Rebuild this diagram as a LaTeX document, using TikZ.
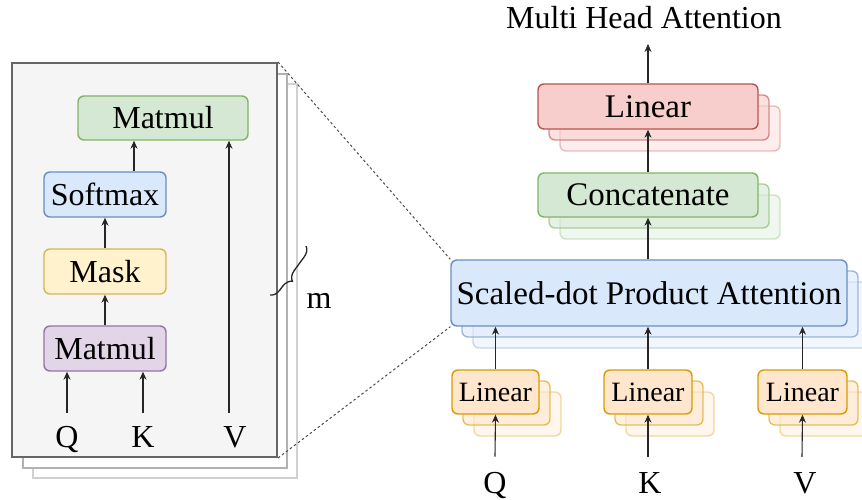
\documentclass[tikz,border=0pt]{standalone}
\usepackage{fontspec}
\setmainfont{Liberation Serif}
\usetikzlibrary{arrows.meta,decorations.pathreplacing,calc}
\definecolor{gF}{HTML}{D5E8D4}\definecolor{gD}{HTML}{82B366}
\definecolor{bF}{HTML}{DAE8FC}\definecolor{bD}{HTML}{6C8EBF}
\definecolor{yF}{HTML}{FFF2CC}\definecolor{yD}{HTML}{D6B656}
\definecolor{pF}{HTML}{E1D5E7}\definecolor{pD}{HTML}{9673A6}
\definecolor{rF}{HTML}{F8CECC}\definecolor{rD}{HTML}{B85450}
\definecolor{oF}{HTML}{FFE6CC}\definecolor{oD}{HTML}{D79B00}
\definecolor{panF}{HTML}{F5F5F5}\definecolor{panD}{HTML}{666666}
\newcommand\fsz[1]{\fontsize{#1}{#1}\selectfont}
\tikzset{
  box/.style={draw, rounded corners=6pt, line width=1.4pt, inner sep=0pt, text=black},
  arr/.style={-{Stealth[length=8pt,width=7pt]}, line width=1.1pt, black!85},
  lab/.style={inner sep=0pt, anchor=base, font=\fsz{32}},
  panelbox/.style={draw, inner sep=0pt, line width=2pt}
}
% name, x, y, w, h, color prefix, font size, text
\newcommand\stk[8]{%
  \node[box, minimum width=#4pt, minimum height=#5pt, fill=#6F, draw=#6D, opacity=0.35] at (#2+22,#3+22) {};
  \node[box, minimum width=#4pt, minimum height=#5pt, fill=#6F, draw=#6D, opacity=0.6] at (#2+11,#3+11) {};
  \node[box, minimum width=#4pt, minimum height=#5pt, fill=#6F, draw=#6D, font=\fsz{#7}] (#1) at (#2,#3) {#8};}
\begin{document}
\begin{tikzpicture}[x=1pt,y=-1pt]
\useasboundingbox (0,0) rectangle (862,500);
% ---------- left panel ----------
\node[panelbox, draw=black!18, fill=white, minimum width=264pt, minimum height=394pt] (pan3) at (165,281) {};
\node[panelbox, draw=black!30, fill=white, minimum width=264pt, minimum height=394pt] (pan2) at (155,271) {};
\node[panelbox, draw=panD, fill=panF, minimum width=265pt, minimum height=394pt] (panel) at (144.5,260) {};
\node[box, fill=gF, draw=gD, minimum width=170pt, minimum height=44pt, font=\fsz{32}] (mtop) at (163,118) {Matmul};
\node[box, fill=bF, draw=bD, minimum width=122pt, minimum height=45pt, font=\fsz{32}] (soft) at (105,194.5) {Softmax};
\node[box, fill=yF, draw=yD, minimum width=122pt, minimum height=45pt, font=\fsz{32}] (mask) at (105,271.5) {Mask};
\node[box, fill=pF, draw=pD, minimum width=122pt, minimum height=45pt, font=\fsz{32}] (mbot) at (105,348.5) {Matmul};
\node[lab] (lq) at (67,447) {Q};
\node[lab] (lk) at (143,447) {K};
\node[lab] (lv) at (235,447) {V};
\draw[arr] ([yshift=13pt]lq.north) -- ([xshift=-38pt]mbot.south);
\draw[arr] ([yshift=13pt]lk.north) -- ([xshift=38pt]mbot.south);
\draw[arr] ([xshift=-6pt,yshift=13pt]lv.north) -- ([xshift=66pt]mtop.south);
\draw[arr] (mbot.north) -- (mask.south);
\draw[arr] (mask.north) -- (soft.south);
\draw[arr] ([xshift=29pt]soft.north) -- ([xshift=-29pt]mtop.south);
% brace and m
\draw[decorate, decoration={brace, amplitude=10pt, aspect=0.6}, line width=1.3pt, black!85] (306,246) -- (270,295);
\node[lab] (mlab) at (319,308) {m};
% ---------- right side ----------
\node[lab, font=\fsz{32}] (title) at (644,29) {Multi Head Attention};
\stk{lin}{648}{106.5}{220}{45}{r}{33}{Linear}
\stk{cat}{648}{195}{220}{44}{g}{33}{Concatenate}
\stk{sdpa}{649}{293}{396}{66}{b}{33}{Scaled-dot Product Attention}
\stk{linq}{495.5}{392}{87}{44}{o}{28}{Linear}
\stk{link}{648}{392}{88}{44}{o}{28}{Linear}
\stk{linv}{802.5}{392}{89}{44}{o}{28}{Linear}
\node[lab] (rq) at (495,493) {Q};
\node[lab] (rk) at (650,493) {K};
\node[lab] (rv) at (805,493) {V};
\draw[arr] ([yshift=15pt]rq.north) -- (linq.south);
\draw[arr] ([xshift=-2pt,yshift=15pt]rk.north) -- (link.south);
\draw[arr] ([xshift=-3pt,yshift=15pt]rv.north) -- (linv.south);
\draw[arr] (linq.north) -- (linq.north |- sdpa.south);
\draw[arr] (link.north) -- (link.north |- sdpa.south);
\draw[arr] (linv.north) -- (linv.north |- sdpa.south);
\draw[arr] (cat.south |- sdpa.north) -- (cat.south);
\draw[arr] (cat.north) -- (lin.south);
\coordinate (tt) at ([yshift=-15pt]title.base);
\draw[arr] (lin.north) -- (lin.north |- tt);
% dashed zoom lines
\draw[line width=1pt, black!70, dash pattern=on 2.5pt off 2.5pt] (panel.north east) -- (sdpa.north west);
\draw[line width=1pt, black!70, dash pattern=on 2.5pt off 2.5pt] (panel.south east) -- (sdpa.south west);
\end{tikzpicture}
\end{document}
